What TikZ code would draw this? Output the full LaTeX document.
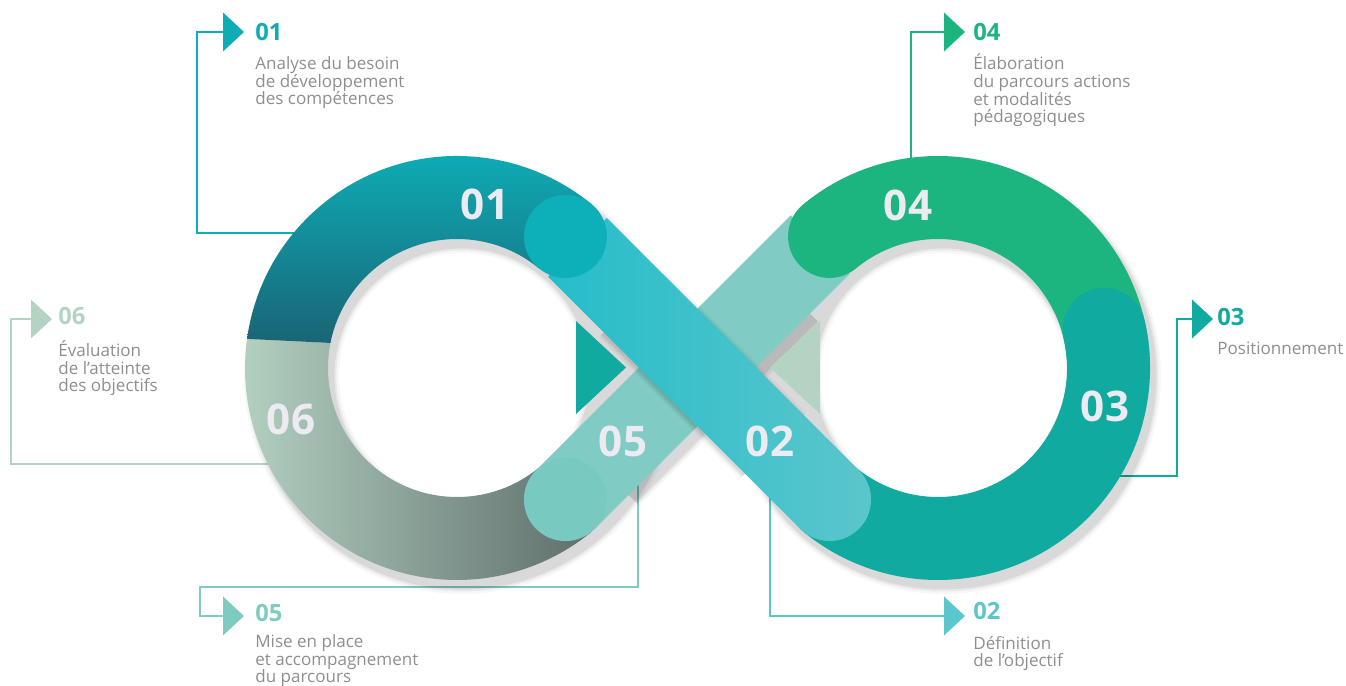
\documentclass[tikz,border=0pt]{standalone}
\usepackage{fontspec}
\setmainfont{Open Sans}
\usetikzlibrary{calc}

\definecolor{tealA}{HTML}{0EACB5}
\definecolor{greenD}{HTML}{1DB57F}
\definecolor{sageL}{HTML}{B5D3C3}
\definecolor{tealB}{HTML}{10AAA0}
\definecolor{mintC}{HTML}{7ECBC2}
\definecolor{cyanE}{HTML}{5BC6CB}
\definecolor{oneTop}{HTML}{0DB0B9}
\definecolor{oneMid}{HTML}{1A8090}
\definecolor{oneBot}{HTML}{1B5B6D}
\definecolor{sixMid}{HTML}{A5C0B2}
\definecolor{sixEnd}{HTML}{5F6E6B}
\definecolor{fiveBand}{HTML}{80CBC3}
\definecolor{fiveCap}{HTML}{78C9C0}
\definecolor{twoStart}{HTML}{25BDCA}
\definecolor{numwhite}{HTML}{EDEBF2}
\definecolor{lblgray}{HTML}{8E8E8E}

\begin{document}
\begin{tikzpicture}[x=0.02cm,y=0.02cm,
    ringline/.style={line width=1.66cm},
    lead/.style={line width=1.1pt},
    numbig/.style={font=\fontsize{24}{24}\selectfont\bfseries, text=numwhite, inner sep=0},
    numhead/.style={font=\fontsize{13.5}{14}\selectfont\bfseries, inner sep=0, anchor=base west},
    lbl/.style={font=\fontsize{9.7}{10.2}\selectfont, text=lblgray, align=left, inner sep=0, anchor=base west}]
  \useasboundingbox (0,0) rectangle (1346,686);

  % centres of the two loops and the crossing
  \coordinate (L) at (457,318);
  \coordinate (R) at (938,318);
  \coordinate (X) at (697.5,318);
  \coordinate (p1) at ($(L)+(45:170.5)$);
  \coordinate (p2) at ($(R)+(230.5:170.5)$);
  \coordinate (p3) at ($(L)+(309.5:170.5)$);
  \coordinate (p4) at ($(R)+(135:170.5)$);

  % leader lines (under the loops)
  \coordinate (r01) at (300,453);  \coordinate (k01) at (197,654);  \coordinate (t01) at (223,654);
  \coordinate (r04) at (911,500);  \coordinate (t04) at (944,654);
  \coordinate (r06) at (300,222);  \coordinate (k06) at (11,367);   \coordinate (t06) at (31,367);
  \coordinate (r03) at (1100,210); \coordinate (k03) at (1177,367); \coordinate (t03) at (1192,367);
  \coordinate (r05) at (638,215);  \coordinate (k05) at (200,99);   \coordinate (t05) at (223,70);
  \coordinate (r02) at (770,210);  \coordinate (t02) at (944,70);

  \draw[lead, tealA] (r01) -| (k01) -- (t01);
  \draw[lead, greenD] (r04) |- (t04);
  \draw[lead, sageL] (r06) -| (k06) -- (t06);
  \draw[lead, tealB] (r03) -| (k03) -- (t03);
  \draw[lead, mintC] (r05) |- (k05) |- (t05);
  \draw[lead, cyanE] (r02) |- (t02);

  \fill[tealA] (t01) -- ++(0,19.5) -- ++(21,-19.5) -- ++(-21,-19.5) -- cycle;
  \fill[greenD] (t04) -- ++(0,19.5) -- ++(21,-19.5) -- ++(-21,-19.5) -- cycle;
  \fill[sageL] (t06) -- ++(0,19.5) -- ++(21,-19.5) -- ++(-21,-19.5) -- cycle;
  \fill[tealB] (t03) -- ++(0,19.5) -- ++(21,-19.5) -- ++(-21,-19.5) -- cycle;
  \fill[mintC] (t05) -- ++(0,19.5) -- ++(21,-19.5) -- ++(-21,-19.5) -- cycle;
  \fill[cyanE] (t02) -- ++(0,19.5) -- ++(21,-19.5) -- ++(-21,-19.5) -- cycle;

  % soft shadows
  \foreach \w/\o in {1.9cm/0.03,1.8cm/0.05,1.72cm/0.07}{
    \draw[line width=\w, black, opacity=\o] ($(L)+(5,-8)$) circle[radius=170.5];
    \draw[line width=\w, black, opacity=\o] ($(R)+(5,-8)$) circle[radius=170.5];
    \draw[line width=\w, black, opacity=\o] ($(p3)+(45:50)+(5,-8)$) -- ($(p4)+(225:50)+(5,-8)$);
  }

  % small arrows in the middle
  \fill[tealB] (576,365) -- (576,272) -- (626,318.5) -- cycle;
  \fill[sageL] (820,365) -- (820,272) -- (770,318.5) -- cycle;

  % loop 06
  \shade[left color=sageL, middle color=sixMid, right color=sixEnd]
    (L) ++(172.1:212) arc[start angle=172.1, end angle=309.5, radius=212]
    -- ++(129.5:83) arc[start angle=309.5, end angle=168.8, radius=129] -- cycle;

  % band 05
  \draw[ringline, fiveBand] (p3) -- ($(p4)+(45:4)$);
  \fill[fiveCap] (p3) circle[radius=41.5];

  % loop 04 and 03
  \draw[ringline, greenD, line cap=round] (R) ++(129.5:170.5) arc[start angle=129.5, end angle=5, radius=170.5];
  \draw[ringline, tealB, line cap=round] (R) ++(13:170.5) arc[start angle=13, end angle=-129.5, radius=170.5];

  % band 02 on top
  \foreach \w/\o in {1.86cm/0.03,1.78cm/0.05,1.7cm/0.07}{
    \draw[line width=\w, black, opacity=\o] ($(X)+(135:100)+(5,-7)$) -- ($(X)+(-45:100)+(5,-7)$);
  }
  \shade[left color=twoStart, middle color=cyanE, right color=cyanE]
    ($(p1)+(45:41.5)$) -- ($(p2)+(45:41.5)$) arc[start angle=45, end angle=-135, radius=41.5]
    -- ($(p1)+(-135:41.5)$) -- cycle;

  % loop 01
  \shade[top color=oneTop, middle color=oneMid, bottom color=oneBot]
    (L) ++(172.1:212) arc[start angle=172.1, end angle=50.5, radius=212]
    -- ++(230.5:83) arc[start angle=50.5, end angle=168.8, radius=129] -- cycle;
  \fill[oneTop] ($(L)+(50.5:170.5)$) circle[radius=41.5];

  % numbers on the loops
  \node[numbig] (b01) at (485,482) {01};
  \node[numbig] (b04) at (908,481) {04};
  \node[numbig] (b06) at (291,267) {06};
  \node[numbig] (b03) at (1105,280) {03};
  \node[numbig] (b05) at (623,245) {05};
  \node[numbig] (b02) at (770,245) {02};

  % labels (base = last line)
  \node[numhead, text=tealA] (h01) at (255,645) {01};
  \node[lbl] (d01) at (255,581) {Analyse du besoin\\de développement\\des compétences};
  \node[numhead, text=greenD] (h04) at (973,645) {04};
  \node[lbl] (d04) at (973,563) {Élaboration\\du parcours actions\\et modalités\\pédagogiques};
  \node[numhead, text=sageL] (h06) at (58,361) {06};
  \node[lbl] (d06) at (58,294) {Évaluation\\de l’atteinte\\des objectifs};
  \node[numhead, text=tealB] (h03) at (1217,360) {03};
  \node[lbl] (d03) at (1217,331) {Positionnement};
  \node[numhead, text=mintC] (h05) at (255,64) {05};
  \node[lbl] (d05) at (255,3) {Mise en place\\et accompagnement\\du parcours};
  \node[numhead, text=cyanE] (h02) at (973,66) {02};
  \node[lbl] (d02) at (973,19) {Définition\\de l’objectif};
\end{tikzpicture}
\end{document}
